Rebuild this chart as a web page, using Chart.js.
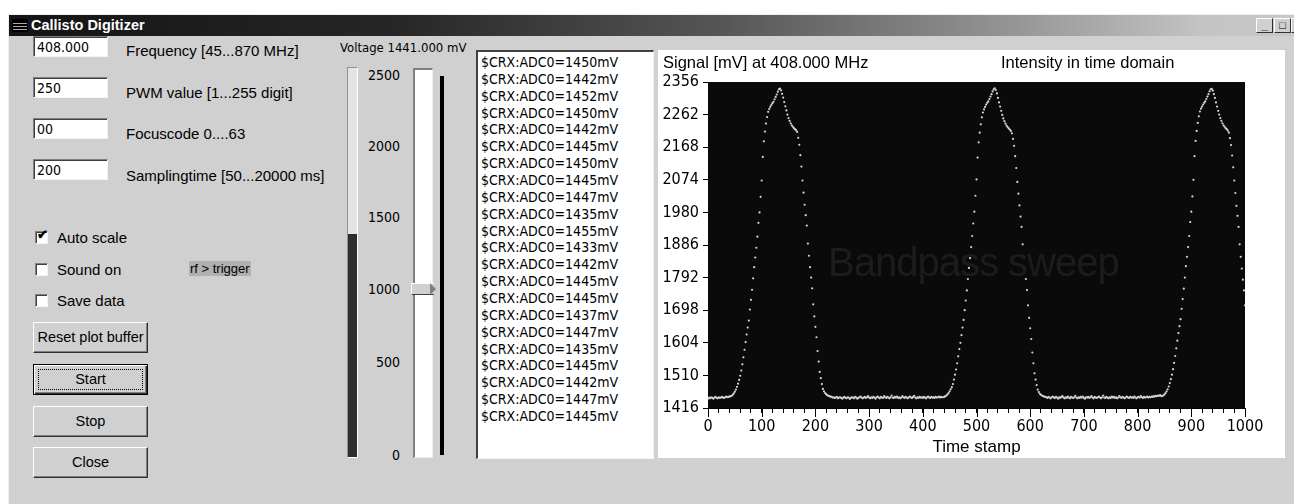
<!DOCTYPE html>
<html><head><meta charset="utf-8">
<script src="https://cdn.jsdelivr.net/npm/chart.js@4.4.0/dist/chart.umd.min.js"></script>
<style>
html,body{margin:0;padding:0}
body{width:1294px;height:504px;background:#fff;overflow:hidden;position:relative;font-family:"Liberation Sans",Arial,sans-serif;color:#000}
.a{position:absolute}
.narrow{font-family:"Liberation Sans Narrow","Arial Narrow","DejaVu Sans Condensed","Liberation Sans",sans-serif}
#win{left:8px;top:14px;width:1286px;height:490px;background:#d0d0d0;border-left:1px solid #eee;border-top:1px solid #eee;box-sizing:border-box}
#titlebar{left:9px;top:15px;width:1285px;height:21px;background:linear-gradient(to right,#141414 0%,#262626 30%,#555 55%,#959595 78%,#c4c4c4 93%,#c8c8c8 100%)}
#title{left:31px;top:17px;font-weight:bold;font-size:14.5px;color:#fff;font-family:"Liberation Sans",Arial,sans-serif}
.tb{background:#fff;box-sizing:border-box;border-top:1px solid #808080;border-left:1px solid #808080;border-right:1px solid #f4f4f4;border-bottom:1px solid #f4f4f4;box-shadow:inset 1px 1px 0 #404040;font-size:14px;padding:2px 0 0 3px;width:75px;height:21px}
.lbl{font-size:15px}
.cb{width:13px;height:13px;background:#fff;box-sizing:border-box;border-top:1px solid #808080;border-left:1px solid #808080;border-right:1px solid #f4f4f4;border-bottom:1px solid #f4f4f4;box-shadow:inset 1px 1px 0 #404040}
.btn{width:115px;height:31px;box-sizing:border-box;background:#d0d0d0;border-top:1px solid #fff;border-left:1px solid #fff;border-right:1px solid #303030;border-bottom:1px solid #303030;box-shadow:inset -1px -1px 0 #808080;font-size:14.5px;text-align:center;line-height:28px}
.tbtn{width:17px;height:15px;box-sizing:border-box;background:#d0d0d0;border-top:1px solid #fff;border-left:1px solid #fff;border-right:1px solid #303030;border-bottom:1px solid #303030;font-size:11px;font-weight:bold;text-align:center;line-height:12px}
#listbox{left:476px;top:50px;width:178px;height:409px;background:#fff;box-sizing:border-box;border-top:2px solid #404040;border-left:2px solid #404040;border-right:1px solid #f4f4f4;border-bottom:1px solid #f4f4f4;padding:2px 0 0 3px;font-size:14px;line-height:16.86px}
.scl{font-size:14px;width:40px;text-align:right;left:360px}
#panel{left:658px;top:50px;width:627px;height:408px;background:#fff}
</style></head>
<body>
<div class="a" id="win"></div>
<div class="a" id="titlebar"></div>
<div class="a" style="left:12px;top:19px;width:16px;height:13px;background:#000"></div>
<div class="a" style="left:13px;top:23px;width:14px;height:1px;background:#aaa"></div>
<div class="a" style="left:13px;top:26px;width:14px;height:1px;background:#aaa"></div>
<div class="a" style="left:13px;top:29px;width:14px;height:1px;background:#aaa"></div>
<div class="a" id="title">Callisto Digitizer</div>
<div class="a tbtn" style="left:1256px;top:18px">_</div>
<div class="a tbtn" style="left:1274px;top:18px">□</div>
<div class="a tbtn" style="left:1291px;top:18px">X</div>

<div class="a tb narrow" style="left:33px;top:36px">408.000</div>
<div class="a lbl" style="left:126px;top:42px">Frequency [45...870 MHz]</div>
<div class="a tb narrow" style="left:33px;top:77px">250</div>
<div class="a lbl" style="left:126px;top:84px">PWM value [1...255 digit]</div>
<div class="a tb narrow" style="left:33px;top:118px">00</div>
<div class="a lbl" style="left:126px;top:125px">Focuscode 0....63</div>
<div class="a tb narrow" style="left:33px;top:159px">200</div>
<div class="a lbl" style="left:126px;top:167px">Samplingtime [50...20000 ms]</div>

<div class="a cb" style="left:35px;top:231px"></div>
<div class="a" style="left:37px;top:227px;font-size:13px;font-weight:bold">✔</div>
<div class="a lbl" style="left:57px;top:229px">Auto scale</div>
<div class="a cb" style="left:35px;top:263px"></div>
<div class="a lbl" style="left:57px;top:261px">Sound on</div>
<div class="a" style="left:189px;top:261px;font-size:13px;background:#b0b0b0;padding:0 1px">rf &gt; trigger</div>
<div class="a cb" style="left:35px;top:294px"></div>
<div class="a lbl" style="left:57px;top:292px">Save data</div>

<div class="a btn" style="left:33px;top:322px">Reset plot buffer</div>
<div class="a btn" style="left:33px;top:364px;border:1px solid #000;box-shadow:inset 1px 1px 0 #fff,inset -1px -1px 0 #303030,inset -2px -2px 0 #808080"><div style="position:absolute;left:4px;top:4px;right:4px;bottom:4px;border:1px dotted #000"></div><span style="position:relative">Start</span></div>
<div class="a btn" style="left:33px;top:406px">Stop</div>
<div class="a btn" style="left:33px;top:447px">Close</div>

<div class="a narrow" style="left:340px;top:40px;font-size:13px">Voltage 1441.000 mV</div>
<div class="a" style="left:347px;top:67px;width:11px;height:391px;background:#e4e4e4;box-sizing:border-box;border-top:1px solid #909090;border-left:1px solid #909090;border-right:1px solid #fff;border-bottom:1px solid #fff"></div>
<div class="a" style="left:348px;top:234px;width:9px;height:223px;background:#2e2e2e"></div>
<div class="a scl narrow" style="top:67px">2500</div>
<div class="a scl narrow" style="top:138px">2000</div>
<div class="a scl narrow" style="top:209px">1500</div>
<div class="a scl narrow" style="top:281px">1000</div>
<div class="a scl narrow" style="top:354px">500</div>
<div class="a scl narrow" style="top:447px">0</div>
<div class="a" style="left:413px;top:68px;width:20px;height:390px;background:#fff;box-sizing:border-box;border-top:2px solid #808080;border-left:2px solid #808080;border-right:1px solid #eee;border-bottom:1px solid #eee"></div>
<div class="a" style="left:411px;top:283px;width:22px;height:10px;background:#d0d0d0;border-top:1px solid #fff;border-left:1px solid #fff;border-bottom:1px solid #404040"></div>
<div class="a" style="left:430px;top:283px;width:0;height:0;border-top:6px solid transparent;border-bottom:6px solid transparent;border-left:6px solid #808080"></div>
<div class="a" style="left:440px;top:76px;width:4px;height:379px;background:#000"></div>

<div class="a narrow" id="listbox"></div>

<div class="a" id="panel"><canvas id="c" width="627" height="408"></canvas></div>
<div class="a" style="left:663px;top:53px;font-size:16.5px">Signal [mV] at 408.000 MHz</div>
<div class="a" style="left:1001px;top:53px;font-size:16.5px">Intensity in time domain</div>
<div class="a" style="left:828px;top:240px;font-size:40px;color:#1c1c1c;letter-spacing:-1px;pointer-events:none;z-index:5">Bandpass sweep</div>

<script>
// ---- data ----
const listValues = [1450,1442,1452,1450,1442,1445,1450,1445,1447,1435,1455,1433,1442,1445,1445,1437,1447,1435,1445,1442,1447,1445];
const segmentStarts = [0, 40, 230, 440, 630, 844];
const sampleStep = 2;
const baseline0 = [1443,1446,1444,1447,1445,1443,1446,1448,1445,1444,1447,1445,1446,1448,1446,1445,1447,1449,1447,1448];
const peak1 = [
1449,1450,1451,1454,1458,1463,1469,1477,1486,1497,
1509,1524,1542,1562,1584,1606,1628,1648,1668,1700,
1728,1757,1790,1822,1850,1878,1910,1950,1980,2025,
2072,2140,2185,2213,2236,2255,2270,2278,2284,2290,
2295,2299,2306,2313,2320,2328,2335,2337,2332,2322,
2311,2298,2286,2274,2262,2252,2244,2237,2231,2227,
2223,2220,2217,2212,2195,2175,2145,2112,2072,2037,
2002,1972,1942,1890,1855,1822,1792,1761,1715,1680,
1650,1620,1580,1550,1520,1502,1485,1471,1464,1459,
1456,1453,1451,1450,1449];
const baseline1 = [
1448,1446,1447,1445,1446,1448,1444,1446,1447,1445,
1443,1446,1448,1445,1444,1447,1446,1442,1445,1447,
1446,1444,1448,1446,1443,1445,1447,1449,1446,1444,
1446,1448,1445,1447,1450,1446,1444,1447,1445,1448,
1446,1443,1447,1449,1446,1444,1448,1446,1445,1450,
1447,1445,1448,1446,1444,1447,1452,1446,1445,1448,
1446,1449,1445,1447,1444,1446,1450,1447,1445,1448,
1446,1444,1447,1449,1446,1445,1448,1451,1446,1444,
1447,1445,1448,1446,1447,1445,1448,1446,1444,1447,
1449,1446,1445,1448,1446,1447,1445,1448,1446,1447,
1449,1446,1448,1447,1447];
const peak2 = [
1448,1450,1452,1455,1459,1464,1470,1476,1485,1498,
1512,1527,1545,1565,1586,1604,1626,1648,1670,1698,
1726,1755,1788,1820,1848,1880,1912,1948,1982,2028,
2075,2138,2182,2210,2234,2254,2268,2277,2284,2291,
2296,2300,2307,2314,2321,2329,2335,2338,2333,2323,
2310,2297,2285,2273,2261,2251,2243,2236,2230,2226,
2222,2219,2215,2208,2192,2172,2142,2108,2068,2034,
2000,1968,1938,1888,1852,1818,1788,1756,1712,1676,
1646,1615,1576,1545,1516,1498,1482,1469,1462,1457,
1454,1452,1450,1449,1448];
const baseline2 = [
1447,1445,1448,1446,1444,1447,1449,1446,1445,1448,
1446,1443,1447,1445,1448,1450,1446,1444,1447,1445,
1449,1446,1444,1448,1446,1445,1447,1451,1446,1444,
1447,1445,1448,1446,1449,1445,1443,1447,1446,1448,
1445,1447,1450,1446,1444,1448,1446,1445,1447,1449,
1446,1444,1447,1452,1446,1445,1448,1446,1444,1447,
1445,1449,1446,1448,1445,1447,1444,1446,1450,1447,
1445,1448,1446,1444,1447,1449,1446,1445,1448,1446,
1447,1445,1449,1446,1444,1447,1448,1446,1450,1447,
1445,1448,1446,1447,1449,1446,1448,1447,1449,1448,
1450,1449,1451,1450,1452,1451,1453];
const peak3 = [
1450,1451,1452,1455,1459,1464,1470,1478,1488,1499,
1512,1528,1546,1566,1588,1610,1632,1652,1672,1702,
1730,1760,1792,1825,1852,1880,1912,1952,1982,2026,
2074,2142,2186,2215,2238,2257,2271,2279,2285,2291,
2296,2300,2307,2314,2321,2329,2335,2336,2331,2321,
2310,2297,2285,2273,2262,2252,2244,2237,2231,2227,
2223,2220,2216,2210,2194,2174,2144,2110,2072,2036,
1999,1970,1938,1888,1852,1818,1786,1755,1712];
const yMin = 1416, yMax = 2356, yStep = 94;
const xMin = 0, xMax = 1000, xMinorStep = 20, xMajorStep = 100;

// ---- list box ----
document.getElementById('listbox').innerHTML = listValues.map(v => '$CRX:ADC0=' + v + 'mV').join('<br>');

// ---- chart ----
const segments = [baseline0, peak1, baseline1, peak2, baseline2, peak3];
const points = [];
segments.forEach((seg, s) => seg.forEach((v, i) => points.push({x: segmentStarts[s] + i * sampleStep, y: v})));

const NARROW = '"Liberation Sans Narrow","Arial Narrow","DejaVu Sans Condensed","Liberation Sans",sans-serif';

const plotBg = {
  id: 'plotBg',
  beforeDatasetsDraw(chart) {
    const {ctx, chartArea: a} = chart;
    ctx.save(); ctx.fillStyle = '#0a0a0a';
    ctx.fillRect(a.left, a.top, a.right - a.left, a.bottom - a.top);
    ctx.restore();
  }
};
const majorTicks = {
  id: 'majorTicks',
  afterDraw(chart) {
    const {ctx} = chart; const sx = chart.scales.x; const b = chart.chartArea.bottom;
    ctx.save(); ctx.strokeStyle = '#000'; ctx.lineWidth = 1;
    for (let v = xMin; v <= xMax; v += xMajorStep) {
      const px = Math.round(sx.getPixelForValue(v)) + 0.5;
      ctx.beginPath(); ctx.moveTo(px, b); ctx.lineTo(px, b + 9); ctx.stroke();
    }
    ctx.restore();
  }
};

new Chart(document.getElementById('c'), {
  type: 'scatter',
  data: {datasets: [{data: points, pointRadius: 1.1, pointHoverRadius: 0, pointBackgroundColor: '#d4d4d4', pointBorderWidth: 0, showLine: false}]},
  options: {
    responsive: false, animation: false, events: [],
    layout: {padding: {top: 32, right: 40, left: 0, bottom: 0}},
    plugins: {legend: {display: false}, tooltip: {enabled: false}},
    scales: {
      x: {
        type: 'linear', min: xMin, max: xMax,
        ticks: {stepSize: xMinorStep, autoSkip: false, maxRotation: 0, padding: 4, color: '#000',
          font: {family: NARROW, size: 16}, callback: v => (v % xMajorStep === 0 ? String(v) : '')},
        grid: {drawOnChartArea: false, tickLength: 5, color: '#000', tickColor: '#000'},
        border: {color: '#000'},
        title: {display: true, text: 'Time stamp', color: '#000', font: {family: '"Liberation Sans",Arial,sans-serif', size: 17}, padding: {top: 0, bottom: 0}},
        afterFit: s => { s.height = 50; }
      },
      y: {
        min: yMin, max: yMax,
        ticks: {stepSize: yStep, autoSkip: false, padding: 4, color: '#000', font: {family: NARROW, size: 16}, callback: v => String(v)},
        grid: {drawOnChartArea: false, tickLength: 5, color: '#000', tickColor: '#000'},
        border: {color: '#000'},
        afterFit: s => { s.width = 50; }
      }
    }
  },
  plugins: [plotBg, majorTicks]
});
</script>
</body></html>
